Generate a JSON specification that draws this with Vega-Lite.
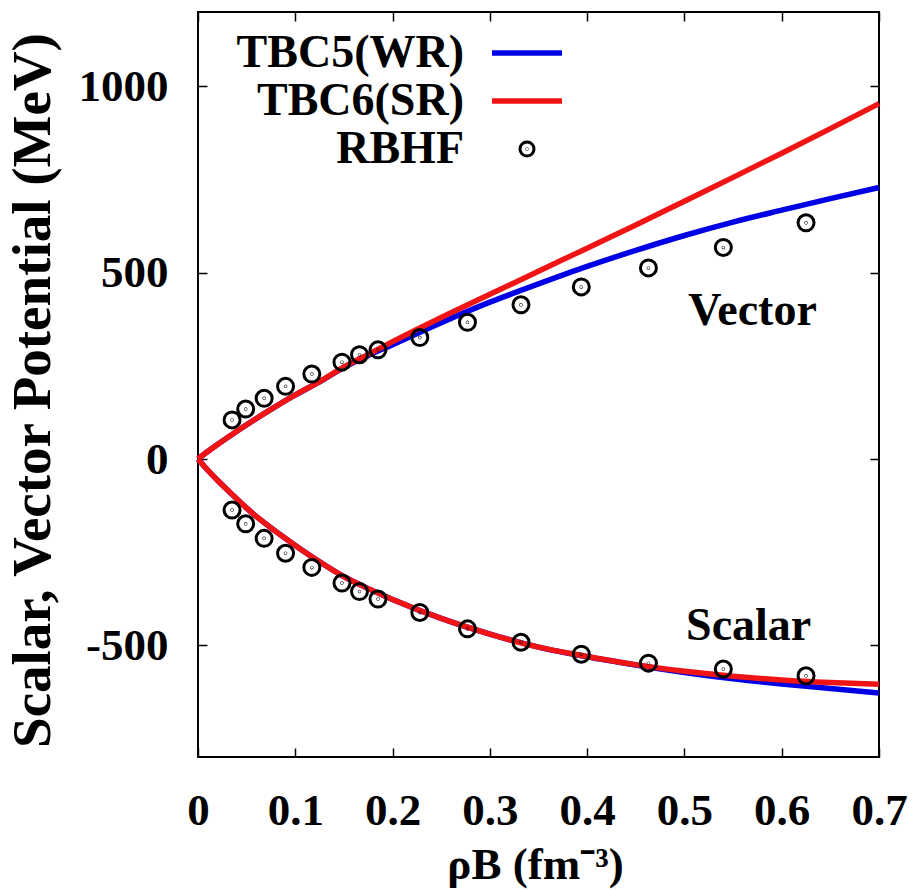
{
  "$schema": "https://vega.github.io/schema/vega-lite/v6.json",
  "width": 681,
  "height": 745,
  "autosize": {"type": "none"},
  "padding": {"left": 198, "top": 12, "right": 33, "bottom": 133},
  "background": "white",
  "config": {
    "view": {"stroke": "black", "strokeWidth": 2},
    "font": "Liberation Serif"
  },
  "datasets": {
    "tbc5": [
      {"series": "TBC5(WR)", "part": "vector", "rho": 0, "U": 0},
      {"series": "TBC5(WR)", "part": "vector", "rho": 0.01, "U": 20},
      {"series": "TBC5(WR)", "part": "vector", "rho": 0.02, "U": 39},
      {"series": "TBC5(WR)", "part": "vector", "rho": 0.035, "U": 66},
      {"series": "TBC5(WR)", "part": "vector", "rho": 0.05, "U": 92},
      {"series": "TBC5(WR)", "part": "vector", "rho": 0.07, "U": 125},
      {"series": "TBC5(WR)", "part": "vector", "rho": 0.1, "U": 172},
      {"series": "TBC5(WR)", "part": "vector", "rho": 0.125, "U": 207},
      {"series": "TBC5(WR)", "part": "vector", "rho": 0.15, "U": 246},
      {"series": "TBC5(WR)", "part": "vector", "rho": 0.175, "U": 278},
      {"series": "TBC5(WR)", "part": "vector", "rho": 0.2, "U": 307},
      {"series": "TBC5(WR)", "part": "vector", "rho": 0.25, "U": 366},
      {"series": "TBC5(WR)", "part": "vector", "rho": 0.3, "U": 421},
      {"series": "TBC5(WR)", "part": "vector", "rho": 0.35, "U": 470},
      {"series": "TBC5(WR)", "part": "vector", "rho": 0.4, "U": 517},
      {"series": "TBC5(WR)", "part": "vector", "rho": 0.45, "U": 560},
      {"series": "TBC5(WR)", "part": "vector", "rho": 0.5, "U": 600},
      {"series": "TBC5(WR)", "part": "vector", "rho": 0.55, "U": 636},
      {"series": "TBC5(WR)", "part": "vector", "rho": 0.6, "U": 668},
      {"series": "TBC5(WR)", "part": "vector", "rho": 0.65, "U": 699},
      {"series": "TBC5(WR)", "part": "vector", "rho": 0.7, "U": 729},
      {"series": "TBC5(WR)", "part": "scalar", "rho": 0, "U": 0},
      {"series": "TBC5(WR)", "part": "scalar", "rho": 0.01, "U": -30},
      {"series": "TBC5(WR)", "part": "scalar", "rho": 0.02, "U": -57},
      {"series": "TBC5(WR)", "part": "scalar", "rho": 0.035, "U": -95},
      {"series": "TBC5(WR)", "part": "scalar", "rho": 0.05, "U": -132},
      {"series": "TBC5(WR)", "part": "scalar", "rho": 0.07, "U": -175},
      {"series": "TBC5(WR)", "part": "scalar", "rho": 0.1, "U": -232},
      {"series": "TBC5(WR)", "part": "scalar", "rho": 0.125, "U": -276},
      {"series": "TBC5(WR)", "part": "scalar", "rho": 0.15, "U": -316},
      {"series": "TBC5(WR)", "part": "scalar", "rho": 0.175, "U": -348},
      {"series": "TBC5(WR)", "part": "scalar", "rho": 0.2, "U": -377},
      {"series": "TBC5(WR)", "part": "scalar", "rho": 0.25, "U": -428},
      {"series": "TBC5(WR)", "part": "scalar", "rho": 0.3, "U": -470},
      {"series": "TBC5(WR)", "part": "scalar", "rho": 0.35, "U": -505},
      {"series": "TBC5(WR)", "part": "scalar", "rho": 0.4, "U": -531},
      {"series": "TBC5(WR)", "part": "scalar", "rho": 0.45, "U": -553},
      {"series": "TBC5(WR)", "part": "scalar", "rho": 0.5, "U": -573},
      {"series": "TBC5(WR)", "part": "scalar", "rho": 0.55, "U": -590},
      {"series": "TBC5(WR)", "part": "scalar", "rho": 0.6, "U": -604},
      {"series": "TBC5(WR)", "part": "scalar", "rho": 0.65, "U": -616},
      {"series": "TBC5(WR)", "part": "scalar", "rho": 0.7, "U": -628}
    ],
    "tbc6": [
      {"series": "TBC6(SR)", "part": "vector", "rho": 0, "U": 0},
      {"series": "TBC6(SR)", "part": "vector", "rho": 0.01, "U": 20},
      {"series": "TBC6(SR)", "part": "vector", "rho": 0.02, "U": 39},
      {"series": "TBC6(SR)", "part": "vector", "rho": 0.035, "U": 66},
      {"series": "TBC6(SR)", "part": "vector", "rho": 0.05, "U": 92},
      {"series": "TBC6(SR)", "part": "vector", "rho": 0.07, "U": 125},
      {"series": "TBC6(SR)", "part": "vector", "rho": 0.1, "U": 172},
      {"series": "TBC6(SR)", "part": "vector", "rho": 0.125, "U": 208},
      {"series": "TBC6(SR)", "part": "vector", "rho": 0.15, "U": 247},
      {"series": "TBC6(SR)", "part": "vector", "rho": 0.175, "U": 281},
      {"series": "TBC6(SR)", "part": "vector", "rho": 0.2, "U": 315},
      {"series": "TBC6(SR)", "part": "vector", "rho": 0.25, "U": 380},
      {"series": "TBC6(SR)", "part": "vector", "rho": 0.3, "U": 442},
      {"series": "TBC6(SR)", "part": "vector", "rho": 0.35, "U": 504},
      {"series": "TBC6(SR)", "part": "vector", "rho": 0.4, "U": 566},
      {"series": "TBC6(SR)", "part": "vector", "rho": 0.45, "U": 628},
      {"series": "TBC6(SR)", "part": "vector", "rho": 0.5, "U": 692},
      {"series": "TBC6(SR)", "part": "vector", "rho": 0.55, "U": 756},
      {"series": "TBC6(SR)", "part": "vector", "rho": 0.6, "U": 821},
      {"series": "TBC6(SR)", "part": "vector", "rho": 0.65, "U": 887},
      {"series": "TBC6(SR)", "part": "vector", "rho": 0.7, "U": 954},
      {"series": "TBC6(SR)", "part": "scalar", "rho": 0, "U": 0},
      {"series": "TBC6(SR)", "part": "scalar", "rho": 0.01, "U": -30},
      {"series": "TBC6(SR)", "part": "scalar", "rho": 0.02, "U": -57},
      {"series": "TBC6(SR)", "part": "scalar", "rho": 0.035, "U": -95},
      {"series": "TBC6(SR)", "part": "scalar", "rho": 0.05, "U": -132},
      {"series": "TBC6(SR)", "part": "scalar", "rho": 0.07, "U": -175},
      {"series": "TBC6(SR)", "part": "scalar", "rho": 0.1, "U": -232},
      {"series": "TBC6(SR)", "part": "scalar", "rho": 0.125, "U": -276},
      {"series": "TBC6(SR)", "part": "scalar", "rho": 0.15, "U": -316},
      {"series": "TBC6(SR)", "part": "scalar", "rho": 0.175, "U": -348},
      {"series": "TBC6(SR)", "part": "scalar", "rho": 0.2, "U": -377},
      {"series": "TBC6(SR)", "part": "scalar", "rho": 0.25, "U": -428},
      {"series": "TBC6(SR)", "part": "scalar", "rho": 0.3, "U": -470},
      {"series": "TBC6(SR)", "part": "scalar", "rho": 0.35, "U": -505},
      {"series": "TBC6(SR)", "part": "scalar", "rho": 0.4, "U": -530},
      {"series": "TBC6(SR)", "part": "scalar", "rho": 0.45, "U": -552},
      {"series": "TBC6(SR)", "part": "scalar", "rho": 0.5, "U": -570},
      {"series": "TBC6(SR)", "part": "scalar", "rho": 0.55, "U": -583},
      {"series": "TBC6(SR)", "part": "scalar", "rho": 0.6, "U": -593},
      {"series": "TBC6(SR)", "part": "scalar", "rho": 0.65, "U": -600},
      {"series": "TBC6(SR)", "part": "scalar", "rho": 0.7, "U": -605}
    ],
    "rbhf": [
      {"series": "RBHF", "rho": 0.035, "U": 105},
      {"series": "RBHF", "rho": 0.049, "U": 134},
      {"series": "RBHF", "rho": 0.068, "U": 163},
      {"series": "RBHF", "rho": 0.09, "U": 195},
      {"series": "RBHF", "rho": 0.117, "U": 228},
      {"series": "RBHF", "rho": 0.148, "U": 260},
      {"series": "RBHF", "rho": 0.166, "U": 280},
      {"series": "RBHF", "rho": 0.185, "U": 293},
      {"series": "RBHF", "rho": 0.228, "U": 326},
      {"series": "RBHF", "rho": 0.277, "U": 367},
      {"series": "RBHF", "rho": 0.332, "U": 414},
      {"series": "RBHF", "rho": 0.394, "U": 462},
      {"series": "RBHF", "rho": 0.463, "U": 513},
      {"series": "RBHF", "rho": 0.54, "U": 568},
      {"series": "RBHF", "rho": 0.625, "U": 634},
      {"series": "RBHF", "rho": 0.035, "U": -137},
      {"series": "RBHF", "rho": 0.049, "U": -174},
      {"series": "RBHF", "rho": 0.068, "U": -213},
      {"series": "RBHF", "rho": 0.09, "U": -253},
      {"series": "RBHF", "rho": 0.117, "U": -291},
      {"series": "RBHF", "rho": 0.148, "U": -333},
      {"series": "RBHF", "rho": 0.166, "U": -356},
      {"series": "RBHF", "rho": 0.185, "U": -376},
      {"series": "RBHF", "rho": 0.228, "U": -412},
      {"series": "RBHF", "rho": 0.277, "U": -456},
      {"series": "RBHF", "rho": 0.332, "U": -492},
      {"series": "RBHF", "rho": 0.394, "U": -524},
      {"series": "RBHF", "rho": 0.463, "U": -548},
      {"series": "RBHF", "rho": 0.54, "U": -564},
      {"series": "RBHF", "rho": 0.625, "U": -582}
    ]
  },
  "layer": [
    {
      "mark": {"type": "rule", "color": "black", "strokeWidth": 1, "strokeDash": [2, 2]},
      "encoding": {
        "x": {"datum": 0, "type": "quantitative",
          "scale": {"domain": [0, 0.7], "nice": false, "zero": false},
          "axis": {"orient": "top", "values": [0, 0.1, 0.2, 0.3, 0.4, 0.5, 0.6, 0.7], "labels": false, "title": null, "domain": false, "grid": false, "tickSize": -9, "tickColor": "black", "tickWidth": 1.5}},
        "x2": {"datum": 0.7},
        "y": {"datum": 0, "type": "quantitative",
          "scale": {"domain": [-800, 1200], "nice": false, "zero": false},
          "axis": {"orient": "right", "values": [-500, 0, 500, 1000], "labels": false, "title": null, "domain": false, "grid": false, "tickSize": -9, "tickColor": "black", "tickWidth": 1.5}}
      }
    },
    {
      "data": {"name": "tbc5"},
      "mark": {"type": "line", "strokeWidth": 5.5, "interpolate": "monotone"},
      "encoding": {
        "x": {"field": "rho", "type": "quantitative",
          "scale": {"domain": [0, 0.7], "nice": false, "zero": false},
          "axis": {"orient": "bottom", "values": [0, 0.1, 0.2, 0.3, 0.4, 0.5, 0.6, 0.7], "format": ".1~f",
            "labelFont": "Liberation Serif", "labelFontSize": 45, "labelFontWeight": 700, "labelColor": "black",
            "labelPadding": 40, "labelFlush": false, "labelOverlap": false, "labelBound": false,
            "tickSize": -9, "tickColor": "black", "tickWidth": 1.5, "domain": false, "grid": false,
            "title": "ρB (fm⁻³)", "titleFont": "Liberation Serif", "titleFontSize": 45, "titleFontWeight": 700, "titleColor": "black",
            "titleX": 337, "titleY": 121, "titleAlign": "center", "titleBaseline": "alphabetic"}},
        "y": {"field": "U", "type": "quantitative",
          "scale": {"domain": [-800, 1200], "nice": false, "zero": false},
          "axis": {"orient": "left", "values": [-500, 0, 500, 1000], "labelExpr": "'' + datum.value",
            "labelFont": "Liberation Serif", "labelFontSize": 45, "labelFontWeight": 700, "labelColor": "black",
            "labelPadding": 39, "labelOverlap": false, "labelBound": false,
            "tickSize": -9, "tickColor": "black", "tickWidth": 1.5, "domain": false, "grid": false,
            "title": "Scalar, Vector Potential (MeV)", "titleFont": "Liberation Serif", "titleFontSize": 55, "titleFontWeight": 700, "titleColor": "black",
            "titleX": -166, "titleY": 378, "titleAngle": -90, "titleAlign": "center", "titleBaseline": "middle"}},
        "color": {"field": "series", "type": "nominal",
          "scale": {"domain": ["TBC5(WR)", "TBC6(SR)", "RBHF"], "range": ["#0000e6", "#f01414", "#000000"]},
          "legend": {"orient": "none", "legendX": 306, "legendY": 18, "direction": "vertical", "title": null, "padding": 0,
            "labelFont": "Liberation Serif", "labelFontSize": 46, "labelFontWeight": 700, "labelColor": "black",
            "labelAlign": "right", "labelOffset": -86, "labelLimit": 0, "rowPadding": 2, "symbolOffset": 0,
            "encode": {"symbols": {"update": {
              "shape": {"signal": "datum.value === 'RBHF' ? 'M-1,0A1,1,0,1,0,1,0A1,1,0,1,0,-1,0M-0.03,0A0.03,0.03,0,1,0,0.03,0A0.03,0.03,0,1,0,-0.03,0' : 'M-5,0H5'"},
              "size": {"value": 196},
              "strokeWidth": {"signal": "datum.value === 'RBHF' ? 3 : 5.5"},
              "stroke": {"scale": "color", "field": "value"},
              "fill": {"value": "transparent"},
              "opacity": {"value": 1}
            }}}}},
        "detail": {"field": "part", "type": "nominal"}
      }
    },
    {
      "data": {"name": "tbc6"},
      "mark": {"type": "line", "strokeWidth": 5.5, "interpolate": "monotone"},
      "encoding": {
        "x": {"field": "rho", "type": "quantitative", "scale": {"domain": [0, 0.7], "nice": false, "zero": false}, "axis": null},
        "y": {"field": "U", "type": "quantitative", "scale": {"domain": [-800, 1200], "nice": false, "zero": false}, "axis": null},
        "color": {"field": "series", "type": "nominal"},
        "detail": {"field": "part", "type": "nominal"}
      }
    },
    {
      "data": {"name": "rbhf"},
      "mark": {"type": "point", "shape": "M-1,0A1,1,0,1,0,1,0A1,1,0,1,0,-1,0M-0.03,0A0.03,0.03,0,1,0,0.03,0A0.03,0.03,0,1,0,-0.03,0", "filled": false, "size": 256, "strokeWidth": 3, "opacity": 1},
      "encoding": {
        "x": {"field": "rho", "type": "quantitative", "scale": {"domain": [0, 0.7], "nice": false, "zero": false}, "axis": null},
        "y": {"field": "U", "type": "quantitative", "scale": {"domain": [-800, 1200], "nice": false, "zero": false}, "axis": null},
        "color": {"field": "series", "type": "nominal"}
      }
    },
    {
      "data": {"values": [{}]},
      "mark": {"type": "text", "font": "Liberation Serif", "fontSize": 46, "fontWeight": 700, "fill": "black", "align": "center", "baseline": "middle"},
      "encoding": {
        "text": {"value": "Vector"},
        "x": {"datum": 0.57, "type": "quantitative", "scale": {"domain": [0, 0.7], "nice": false, "zero": false}, "axis": null},
        "y": {"datum": 398, "type": "quantitative", "scale": {"domain": [-800, 1200], "nice": false, "zero": false}, "axis": null}
      }
    },
    {
      "data": {"values": [{}]},
      "mark": {"type": "text", "font": "Liberation Serif", "fontSize": 46, "fontWeight": 700, "fill": "black", "align": "center", "baseline": "middle"},
      "encoding": {
        "text": {"value": "Scalar"},
        "x": {"datum": 0.566, "type": "quantitative", "scale": {"domain": [0, 0.7], "nice": false, "zero": false}, "axis": null},
        "y": {"datum": -449, "type": "quantitative", "scale": {"domain": [-800, 1200], "nice": false, "zero": false}, "axis": null}
      }
    }
  ],
  "resolve": {"axis": {"x": "independent", "y": "independent"}}
}
